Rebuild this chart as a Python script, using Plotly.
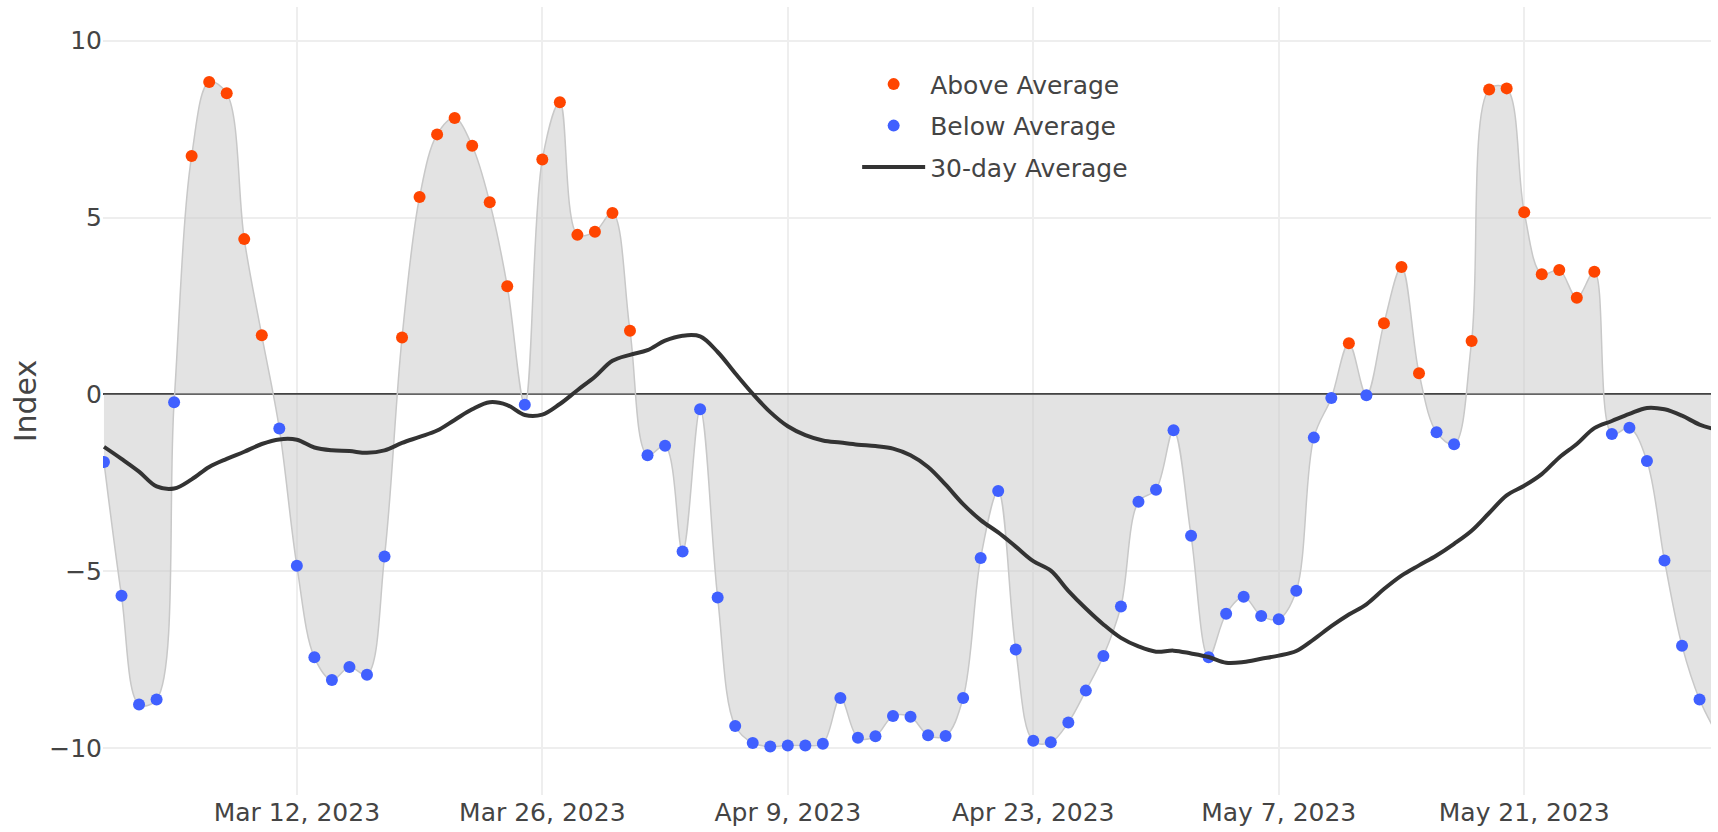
import pandas as pd
import plotly.graph_objects as go

# ---- data ----
start_date = "2023-03-01"
index_values = [
    -1.91, -5.69, -8.76, -8.62, -0.22, 6.74, 8.83, 8.51, 4.39, 1.67,
    -0.96, -4.84, -7.43, -8.07, -7.70, -7.92, -4.58, 1.61, 5.58, 7.35,
    7.81, 7.03, 5.43, 3.06, -0.29, 6.64, 8.26, 4.51, 4.60, 5.13,
    1.80, -1.72, -1.45, -4.44, -0.42, -5.74, -9.37, -9.85, -9.95, -9.92,
    -9.92, -9.87, -8.58, -9.70, -9.66, -9.09, -9.11, -9.63, -9.65, -8.58,
    -4.62, -2.73, -7.21, -9.79, -9.83, -9.27, -8.37, -7.39, -5.99, -3.03,
    -2.69, -1.01, -3.99, -7.43, -6.20, -5.72, -6.26, -6.35, -5.55, -1.22,
    -0.10, 1.45, -0.02, 2.01, 3.60, 0.60, -1.07, -1.41, 1.51, 8.62,
    8.65, 5.15, 3.40, 3.52, 2.73, 3.47, -1.12, -0.94, -1.88, -4.69,
    -7.10, -8.62, -9.60,
]
avg_30day = [
    -1.48, -1.82, -2.18, -2.60, -2.66, -2.40, -2.05, -1.82, -1.62, -1.40,
    -1.27, -1.28, -1.50, -1.58, -1.60, -1.65, -1.58, -1.37, -1.20, -1.02,
    -0.72, -0.42, -0.22, -0.30, -0.58, -0.57, -0.27, 0.12, 0.50, 0.95,
    1.12, 1.25, 1.52, 1.66, 1.64, 1.20, 0.60, 0.02, -0.50, -0.90,
    -1.15, -1.30, -1.36, -1.42, -1.46, -1.53, -1.72, -2.05, -2.55, -3.10,
    -3.55, -3.90, -4.30, -4.71, -4.98, -5.55, -6.05, -6.50, -6.88, -7.12,
    -7.27, -7.24, -7.32, -7.42, -7.58, -7.56, -7.47, -7.38, -7.25, -6.92,
    -6.55, -6.22, -5.93, -5.50, -5.12, -4.83, -4.55, -4.22, -3.85, -3.35,
    -2.85, -2.58, -2.25, -1.78, -1.40, -0.95, -0.75, -0.55, -0.38, -0.42,
    -0.60, -0.85, -1.00,
]
x_range = ["2023-02-28 22:40", "2023-05-31 15:40"]
y_range = [-11.32, 10.95]
y_ticks = [-10, -5, 0, 5, 10]

dates = pd.date_range(start_date, periods=len(index_values), freq="D")
df = pd.DataFrame({"date": dates, "index": index_values, "avg": avg_30day})
above = df[df["index"] >= 0]
below = df[df["index"] < 0]

FONT = "DejaVu Sans"
fig = go.Figure()
fig.add_trace(go.Scatter(
    x=df["date"], y=df["index"], mode="lines", line=dict(shape="spline", color="rgb(200,200,200)", width=1.5),
    fill="tozeroy", fillcolor="rgba(200,200,200,0.5)", showlegend=False, hoverinfo="skip",
))
fig.add_trace(go.Scatter(
    x=above["date"], y=above["index"], mode="markers", name="Above Average",
    marker=dict(color="#FF4500", size=12), legendgroup="a",
))
fig.add_trace(go.Scatter(
    x=below["date"], y=below["index"], mode="markers", name="Below Average",
    marker=dict(color="#4060FF", size=12), legendgroup="b",
))
fig.add_trace(go.Scatter(
    x=df["date"], y=df["avg"], mode="lines", name="30-day Average",
    line=dict(color="#333333", width=4, shape="spline"), legendgroup="c",
))

fig.update_layout(
    template="none",
    width=1718, height=832,
    margin=dict(l=103, r=7, t=7, b=37, pad=0),
    font=dict(family=FONT, size=25, color="#444"),
    paper_bgcolor="white", plot_bgcolor="white",
    legend=dict(x=0.469, y=0.931, xanchor="left", yanchor="top", bgcolor="rgba(0,0,0,0)",
                font=dict(size=25, color="#444"), tracegroupgap=6, itemwidth=63),
    xaxis=dict(type="date", range=x_range, tickformat="%b %-d, %Y", dtick=14 * 86400000,
               tick0="2023-03-12", showgrid=True, gridcolor="#eee", gridwidth=2,
               zeroline=False, ticks="", showline=False, automargin=False),
    yaxis=dict(range=y_range, tickvals=y_ticks, showgrid=True, gridcolor="#eee", gridwidth=2,
               zeroline=True, zerolinecolor="#444", zerolinewidth=1.5, ticks="",
               title=dict(text="Index", standoff=3), automargin=False),
)

fig.write_html("out.html", config={"displayModeBar": False},
               post_script="document.body.style.margin='0';document.body.style.overflow='hidden';")
